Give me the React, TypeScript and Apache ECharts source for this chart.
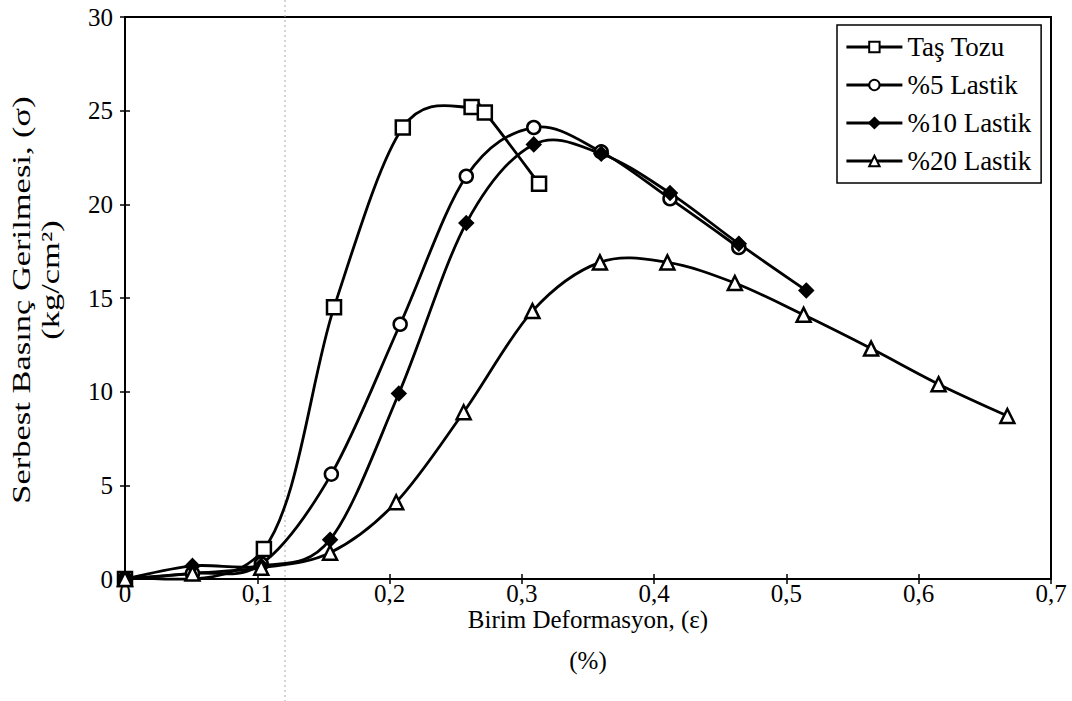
import React, { useEffect, useRef } from "react";
import * as echarts from "echarts";

const seriesNames = ["Taş Tozu", "%5 Lastik", "%10 Lastik", "%20 Lastik"];

const tasTozuX = [0, 0.105, 0.158, 0.21, 0.262, 0.272, 0.313];
const tasTozuY = [0, 1.6, 14.5, 24.1, 25.2, 24.9, 21.1];

const lastik5X = [0, 0.051, 0.103, 0.156, 0.208, 0.258, 0.309, 0.36, 0.412, 0.464];
const lastik5Y = [0, 0.3, 0.8, 5.6, 13.6, 21.5, 24.1, 22.8, 20.3, 17.7];

const lastik10X = [0, 0.051, 0.103, 0.155, 0.207, 0.258, 0.309, 0.36, 0.412, 0.464, 0.515];
const lastik10Y = [0, 0.7, 0.7, 2.1, 9.9, 19.0, 23.2, 22.7, 20.6, 17.9, 15.4];

const lastik20X = [0, 0.051, 0.103, 0.155, 0.205, 0.256, 0.308, 0.359, 0.41, 0.461, 0.513, 0.564, 0.615, 0.667];
const lastik20Y = [0, 0.3, 0.6, 1.4, 4.1, 8.9, 14.3, 16.9, 16.9, 15.8, 14.1, 12.3, 10.4, 8.7];

const xTicks = { min: 0, max: 0.7, interval: 0.1 };
const yTicks = { min: 0, max: 30, interval: 5 };

const xTitle = "Birim Deformasyon, (ε)";
const xTitleUnit = "(%)";
const yTitleLine1 = "Serbest Basınç Gerilmesi, (σ)";
const yTitleLine2 = "(kg/cm²)";

const FONT = "'Liberation Serif', 'Times New Roman', serif";
const FS = 25;

function zip(xs: number[], ys: number[]) {
  return xs.map((x, i) => [x, ys[i]]);
}

export default function App() {
  const ref = useRef<HTMLDivElement>(null);
  useEffect(() => {
    if (!ref.current) return;
    const chart = echarts.init(ref.current, undefined, { renderer: "svg" });
    const symbols = ["rect", "circle", "diamond", "triangle"];
    const sizes = [14, 13, 13, 14];
    const fills = ["#fff", "#fff", "#000", "#fff"];
    const datas = [
      zip(tasTozuX, tasTozuY),
      zip(lastik5X, lastik5Y),
      zip(lastik10X, lastik10Y),
      zip(lastik20X, lastik20Y),
    ];
    const fmt = (v: number) => (v === 0 ? "0" : v.toFixed(1).replace(".", ","));

    // Excel-style smoothed curve: one cubic Bezier per segment, computed in pixel space
    const renderCurve = (params: any, api: any) => {
      const i = params.dataIndexInside;
      const n = params.dataInsideLength;
      if (i >= n - 1) return null;
      const pt = (k: number) => {
        const kk = Math.max(0, Math.min(n - 1, k));
        return api.coord([api.value(0, kk), api.value(1, kk)]);
      };
      const p0 = pt(i - 1);
      const p1 = pt(i);
      const p2 = pt(i + 1);
      const p3 = pt(i + 2);
      const t = 1 / 6;
      return {
        type: "bezierCurve",
        shape: {
          x1: p1[0],
          y1: p1[1],
          x2: p2[0],
          y2: p2[1],
          cpx1: p1[0] + (p2[0] - p0[0]) * t,
          cpy1: p1[1] + (p2[1] - p0[1]) * t,
          cpx2: p2[0] - (p3[0] - p1[0]) * t,
          cpy2: p2[1] - (p3[1] - p1[1]) * t,
        },
        style: { stroke: "#000", lineWidth: 2.8, fill: null },
        silent: true,
      };
    };

    const curveSeries = datas.map((d, i) => ({
      name: "curve" + i,
      type: "custom",
      xAxisIndex: 0,
      yAxisIndex: 0,
      data: d,
      encode: { x: 0, y: 1 },
      renderItem: renderCurve,
      clip: false,
      silent: true,
      z: 2,
    }));

    const markerSeries = seriesNames.map((name, i) => ({
      name,
      type: "line",
      xAxisIndex: 0,
      yAxisIndex: 0,
      data: datas[i],
      symbol: symbols[i],
      symbolSize: sizes[i],
      showAllSymbol: true,
      lineStyle: { color: "#000", width: 2.8, opacity: 0 },
      itemStyle: { color: fills[i], borderColor: "#000", borderWidth: 2.5 },
      z: 3,
    }));

    chart.setOption({
      animation: false,
      backgroundColor: "#fff",
      textStyle: { fontFamily: FONT, color: "#000" },
      grid: {
        left: 125,
        right: 21,
        top: 17,
        bottom: 122,
        show: true,
        borderColor: "#000",
        borderWidth: 2,
        backgroundColor: "transparent",
      },
      legend: {
        orient: "vertical",
        left: 837,
        top: 25,
        data: seriesNames,
        itemWidth: 56,
        itemHeight: 13,
        itemGap: 10,
        padding: [8, 10, 8, 8],
        borderColor: "#000",
        borderWidth: 1.5,
        backgroundColor: "#fff",
        lineStyle: { color: "#000", width: 2.8, opacity: 1 },
        textStyle: { fontFamily: FONT, fontSize: 27, color: "#000", lineHeight: 28 },
      },
      xAxis: [
        {
          type: "value",
          ...xTicks,
          name: xTitle,
          nameLocation: "middle",
          nameGap: 28,
          nameMoveOverlap: false,
          nameTextStyle: { fontFamily: FONT, fontSize: FS, color: "#000", lineHeight: 25 },
          axisLine: { show: true, lineStyle: { color: "#000", width: 2 } },
          axisTick: { show: true, length: 5, lineStyle: { color: "#000", width: 1.5 } },
          axisLabel: {
            formatter: fmt,
            fontFamily: FONT,
            fontSize: FS,
            lineHeight: 25,
            color: "#000",
            margin: 2,
          },
          splitLine: { show: false },
        },
        {
          type: "value",
          ...xTicks,
          position: "bottom",
          axisLine: { show: false },
          axisTick: { show: true, inside: true, length: 5, lineStyle: { color: "#000", width: 1.5 } },
          axisLabel: { show: false },
          splitLine: { show: false },
        },
      ],
      yAxis: [
        {
          type: "value",
          ...yTicks,
          axisLine: { show: true, lineStyle: { color: "#000", width: 2 } },
          axisTick: { show: true, length: 5, lineStyle: { color: "#000", width: 1.5 } },
          axisLabel: { fontFamily: FONT, fontSize: FS, color: "#000", margin: 12 },
          splitLine: { show: false },
        },
        {
          type: "value",
          ...yTicks,
          position: "left",
          axisLine: { show: false },
          axisTick: { show: true, inside: true, length: 5, lineStyle: { color: "#000", width: 1.5 } },
          axisLabel: { show: false },
          splitLine: { show: false },
        },
      ],
      series: [...curveSeries, ...markerSeries],
      graphic: [
        {
          type: "text",
          x: 588,
          y: 660,
          style: {
            text: xTitleUnit,
            font: `${FS}px ${FONT}`,
            fill: "#000",
            align: "center",
            verticalAlign: "middle",
          },
        },
        {
          type: "text",
          x: 22,
          y: 300,
          rotation: Math.PI / 2,
          scaleX: 1.38,
          style: {
            text: yTitleLine1,
            font: `${FS}px ${FONT}`,
            fill: "#000",
            align: "center",
            verticalAlign: "middle",
          },
        },
        {
          type: "text",
          x: 51,
          y: 280,
          rotation: Math.PI / 2,
          scaleX: 1.38,
          style: {
            text: yTitleLine2,
            font: `${FS}px ${FONT}`,
            fill: "#000",
            align: "center",
            verticalAlign: "middle",
          },
        },
        {
          type: "line",
          shape: { x1: 285, y1: 0, x2: 285, y2: 701 },
          style: { stroke: "#aaa", lineWidth: 1, lineDash: [2, 3] },
          silent: true,
          z: 0,
        },
      ],
    });
    return () => chart.dispose();
  }, []);
  return (
    <div
      ref={ref}
      style={{ position: "fixed", left: 0, top: 0, width: 1072, height: 701, background: "#fff" }}
    />
  );
}
